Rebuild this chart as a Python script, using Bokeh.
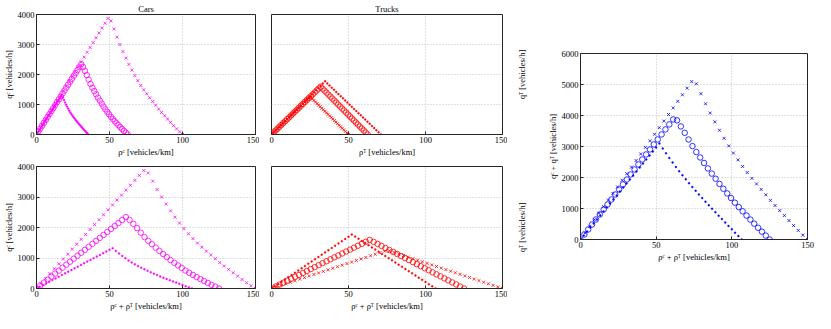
from bokeh.plotting import figure
from bokeh.layouts import row, column
from bokeh.models import Range1d, FixedTicker
from bokeh.embed import file_html
from bokeh.resources import INLINE

# ---------------- data ----------------
# Scenario 1 (small dots): car share 1/3 of density
rho_car_dot = [0.0, 0.72, 1.45, 2.17, 2.90, 3.62, 4.35, 5.07, 5.80, 6.52,
               7.24, 7.97, 8.69, 9.42, 10.14, 10.87, 11.59, 12.32, 13.04, 13.77,
               14.49, 15.21, 15.94, 16.66, 17.39, 18.11, 18.84, 19.56, 20.29, 21.01,
               21.73, 22.46, 23.18, 23.91, 24.63, 25.36, 26.08, 26.81, 27.53, 28.26,
               28.98, 29.70, 30.43, 31.15, 31.88, 32.60, 33.33, 34.05, 34.78, 35.50]
rho_truck_dot = [0.0, 1.45, 2.90, 4.35, 5.80, 7.24, 8.69, 10.14, 11.59, 13.04,
                 14.49, 15.94, 17.39, 18.84, 20.29, 21.73, 23.18, 24.63, 26.08, 27.53,
                 28.98, 30.43, 31.88, 33.33, 34.78, 36.22, 37.67, 39.12, 40.57, 42.02,
                 43.47, 44.92, 46.37, 47.82, 49.27, 50.72, 52.16, 53.61, 55.06, 56.51,
                 57.96, 59.41, 60.86, 62.31, 63.76, 65.21, 66.66, 68.10, 69.55, 71.00]
q_car_dot = [0, 55, 110, 165, 220, 276, 331, 386, 441, 496,
             551, 606, 661, 716, 771, 827, 882, 937, 992, 1047,
             1102, 1157, 1212, 1267, 1322, 1232, 1147, 1067, 992, 922,
             856, 794, 736, 681, 628, 578, 530, 484, 440, 397,
             355, 314, 273, 233, 193, 154, 115, 77, 38, 0]
q_truck_dot = [0, 74, 148, 222, 296, 370, 443, 517, 591, 665,
               739, 813, 887, 961, 1035, 1109, 1182, 1256, 1330, 1404,
               1478, 1552, 1626, 1700, 1774, 1703, 1632, 1561, 1490, 1419,
               1348, 1277, 1206, 1135, 1064, 994, 923, 852, 781, 710,
               639, 568, 497, 426, 355, 284, 213, 142, 71, 0]

# Scenario 2 (open circles): equal shares
rho_car_circ = [0.0, 1.28, 2.55, 3.83, 5.10, 6.38, 7.65, 8.93, 10.20, 11.48,
                12.76, 14.03, 15.31, 16.58, 17.86, 19.13, 20.41, 21.68, 22.96, 24.23,
                25.51, 26.79, 28.06, 29.34, 30.61, 31.89, 33.16, 34.44, 35.71, 36.99,
                38.27, 39.54, 40.82, 42.09, 43.37, 44.64, 45.92, 47.19, 48.47, 49.74,
                51.02, 52.30, 53.57, 54.85, 56.12, 57.40, 58.67, 59.95, 61.22, 62.50]
rho_truck_circ = [0.0, 1.28, 2.55, 3.83, 5.10, 6.38, 7.65, 8.93, 10.20, 11.48,
                  12.76, 14.03, 15.31, 16.58, 17.86, 19.13, 20.41, 21.68, 22.96, 24.23,
                  25.51, 26.79, 28.06, 29.34, 30.61, 31.89, 33.16, 34.44, 35.71, 36.99,
                  38.27, 39.54, 40.82, 42.09, 43.37, 44.64, 45.92, 47.19, 48.47, 49.74,
                  51.02, 52.30, 53.57, 54.85, 56.12, 57.40, 58.67, 59.95, 61.22, 62.50]
q_car_circ = [0, 98, 195, 293, 390, 488, 586, 683, 781, 878,
              976, 1074, 1171, 1269, 1366, 1464, 1562, 1659, 1757, 1854,
              1952, 2050, 2147, 2245, 2342, 2250, 2120, 1980, 1830, 1685,
              1560, 1450, 1340, 1230, 1130, 1030, 930, 840, 755, 675,
              590, 515, 445, 375, 310, 245, 180, 120, 60, 0]
q_truck_circ = [0, 64, 128, 191, 255, 319, 383, 446, 510, 574,
                638, 702, 765, 829, 893, 957, 1020, 1084, 1148, 1212,
                1276, 1339, 1403, 1467, 1531, 1594, 1528, 1461, 1395, 1328,
                1262, 1196, 1129, 1063, 996, 930, 863, 797, 731, 664,
                598, 531, 465, 398, 332, 266, 199, 133, 66, 0]

# Scenario 3 (crosses): car share 2/3 of density
rho_car_cross = [0.0, 2.04, 4.08, 6.12, 8.16, 10.20, 12.24, 14.29, 16.33, 18.37,
                 20.41, 22.45, 24.49, 26.53, 28.57, 30.61, 32.65, 34.69, 36.73, 38.78,
                 40.82, 42.86, 44.90, 46.94, 48.98, 51.02, 53.06, 55.10, 57.14, 59.18,
                 61.22, 63.27, 65.31, 67.35, 69.39, 71.43, 73.47, 75.51, 77.55, 79.59,
                 81.63, 83.67, 85.71, 87.76, 89.80, 91.84, 93.88, 95.92, 97.96, 100.0]
rho_truck_cross = [0.0, 1.02, 2.04, 3.06, 4.08, 5.10, 6.12, 7.14, 8.16, 9.18,
                   10.20, 11.22, 12.24, 13.27, 14.29, 15.31, 16.33, 17.35, 18.37, 19.39,
                   20.41, 21.43, 22.45, 23.47, 24.49, 25.51, 26.53, 27.55, 28.57, 29.59,
                   30.61, 31.63, 32.65, 33.67, 34.69, 35.71, 36.73, 37.76, 38.78, 39.80,
                   40.82, 41.84, 42.86, 43.88, 44.90, 45.92, 46.94, 47.96, 48.98, 50.0]
q_car_cross = [0, 161, 322, 484, 645, 806, 967, 1128, 1290, 1451,
               1612, 1773, 1934, 2096, 2257, 2418, 2579, 2740, 2902, 3063,
               3224, 3385, 3546, 3708, 3869, 3787, 3520, 3245, 3000, 2765,
               2545, 2338, 2145, 1965, 1795, 1635, 1490, 1355, 1225, 1100,
               978, 850, 735, 625, 515, 405, 295, 190, 90, 0]
q_truck_cross = [0, 51, 102, 153, 204, 255, 306, 357, 408, 459,
                 510, 561, 612, 663, 714, 765, 816, 867, 918, 969,
                 1020, 1071, 1122, 1173, 1224, 1236, 1184, 1133, 1081, 1030,
                 978, 927, 875, 824, 773, 721, 670, 618, 567, 515,
                 464, 412, 361, 309, 258, 206, 155, 103, 52, 0]

x_ticks = [0, 50, 100, 150]
y_ticks_class = [0, 1000, 2000, 3000, 4000]
y_ticks_total = [0, 1000, 2000, 3000, 4000, 5000, 6000]

# ---------------- styling ----------------
CAR = "#ff00ff"
TRUCK = "#ff0000"
TOTAL = "#0000ff"
FONT = "Liberation Serif"
FS = "8.5px"
AX = "#262626"


def add_sum(a, b):
    return [u + v for u, v in zip(a, b)]


scen = [
    dict(rc=rho_car_dot, rt=rho_truck_dot, qc=q_car_dot, qt=q_truck_dot, kind="dot"),
    dict(rc=rho_car_circ, rt=rho_truck_circ, qc=q_car_circ, qt=q_truck_circ, kind="circ"),
    dict(rc=rho_car_cross, rt=rho_truck_cross, qc=q_car_cross, qt=q_truck_cross, kind="cross"),
]
for s in scen:
    s["rho"] = add_sum(s["rc"], s["rt"])
    s["q"] = add_sum(s["qc"], s["qt"])


def draw(p, x, y, kind, color):
    if kind == "dot":
        p.scatter(x, y, marker="circle", size=2.0, fill_color=color, line_color=color, line_width=0.3)
    elif kind == "circ":
        p.scatter(x, y, marker="circle", size=5.5, fill_color=None, line_color=color, line_width=0.8)
    else:
        p.scatter(x, y, marker="x", size=4.2, line_color=color, line_width=0.8)


def style_axis(ax):
    ax.axis_line_color = AX
    ax.major_tick_line_color = AX
    ax.major_tick_in = 3
    ax.major_tick_out = 0
    ax.minor_tick_line_color = None
    ax.major_label_text_font = FONT
    ax.major_label_text_font_size = FS
    ax.major_label_text_color = "black"
    ax.major_label_standoff = 2
    ax.axis_label_text_font = FONT
    ax.axis_label_text_font_size = FS
    ax.axis_label_text_font_style = "normal"
    ax.axis_label_text_color = "black"
    ax.axis_label_standoff = 1


def make(width, height, ymax, yticks, borders, title=None, xlabel="", ylabel=None,
         show_yaxis=True):
    kw = dict(width=width, height=height, x_range=Range1d(0, 150), y_range=Range1d(0, ymax),
              toolbar_location=None, output_backend="svg",
              min_border_left=borders[0], min_border_right=borders[1],
              min_border_top=borders[2], min_border_bottom=borders[3])
    if title:
        kw["title"] = title
    p = figure(**kw)
    p.background_fill_color = "white"
    p.border_fill_color = "white"
    p.outline_line_color = AX
    p.outline_line_width = 1
    p.xaxis.ticker = FixedTicker(ticks=x_ticks)
    p.yaxis.ticker = FixedTicker(ticks=yticks)
    for ax in p.axis:
        style_axis(ax)
    p.xaxis.axis_label = xlabel
    if ylabel:
        p.yaxis.axis_label = ylabel
    p.xgrid.ticker = FixedTicker(ticks=x_ticks)
    p.ygrid.ticker = FixedTicker(ticks=yticks)
    if not show_yaxis:
        p.yaxis.visible = False
    for g in p.grid:
        g.grid_line_color = "#b4b4b4"
        g.grid_line_dash = "1 2"
        g.grid_line_width = 0.8
    if title:
        p.title.align = "center"
        p.title.text_font = FONT
        p.title.text_font_size = FS
        p.title.text_font_style = "normal"
        p.title.text_color = "black"
        p.title.standoff = 2
        p.title.offset = 0
    return p


def label_strip(height, top, bottom, text):
    """Narrow strip that only carries the trucks y-axis label (reads bottom-to-top)."""
    p = figure(width=22, height=height, x_range=Range1d(0, 1), y_range=Range1d(0, 1),
               toolbar_location=None, output_backend="svg", x_axis_location=None,
               min_border_left=19, min_border_right=0, min_border_top=top, min_border_bottom=bottom)
    p.outline_line_color = None
    p.background_fill_color = "white"
    p.border_fill_color = "white"
    p.grid.visible = False
    ax = p.yaxis[0]
    ax.ticker = FixedTicker(ticks=[])
    ax.axis_line_color = None
    ax.major_tick_line_color = None
    ax.minor_tick_line_color = None
    ax.major_label_standoff = 0
    ax.axis_label = text
    ax.axis_label_standoff = 0
    ax.axis_label_text_font = FONT
    ax.axis_label_text_font_size = FS
    ax.axis_label_text_font_style = "normal"
    ax.axis_label_text_color = "black"
    return p


A = make(259, 159, 4000, y_ticks_class, (26, 4, 12, 22), title="Cars",
         xlabel="ρᶜ [vehicles/km]", ylabel="qᶜ [vehicles/h]")
B = make(248, 159, 4000, y_ticks_class, (12, 5, 12, 22), title="Trucks",
         xlabel="ρᵀ [vehicles/km]", show_yaxis=False)
F1 = label_strip(159, 12, 22, "qᵀ [vehicles/h]")
C = make(259, 154, 4000, y_ticks_class, (26, 4, 7, 22),
         xlabel="ρᶜ + ρᵀ [vehicles/km]", ylabel="qᶜ [vehicles/h]")
D = make(248, 154, 4000, y_ticks_class, (12, 5, 7, 22),
         xlabel="ρᶜ + ρᵀ [vehicles/km]", show_yaxis=False)
F2 = label_strip(154, 7, 22, "qᵀ [vehicles/h]")
E = make(286, 313, 6000, y_ticks_total, (51, 8, 53, 74),
         xlabel="ρᶜ + ρᵀ [vehicles/km]", ylabel="qᶜ + qᵀ [vehicles/h]")

for s in scen:
    draw(A, s["rc"], s["qc"], s["kind"], CAR)
    draw(B, s["rt"], s["qt"], s["kind"], TRUCK)
    draw(C, s["rho"], s["qc"], s["kind"], CAR)
    draw(D, s["rho"], s["qt"], s["kind"], TRUCK)
    draw(E, s["rho"], s["q"], s["kind"], TOTAL)

layout = row(column(row(A, B, F1), row(C, D, F2)), E)

with open("out.html", "w") as f:
    f.write(file_html(layout, INLINE))
